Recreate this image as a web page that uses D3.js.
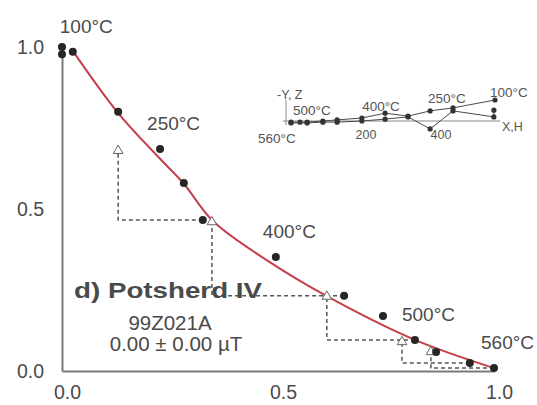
<!DOCTYPE html>
<html>
<head>
<meta charset="utf-8">
<script src="https://cdn.jsdelivr.net/npm/d3@7"></script>
<style>
  html, body { margin: 0; padding: 0; background: #fff; }
  svg { display: block; font-family: "Liberation Sans", Arial, Helvetica, sans-serif; }
</style>
</head>
<body>
<svg id="chart" width="537" height="405"></svg>
<script>
// Arai plot: NRM remaining (y) against pTRM gained (x), normalised
const pTRM = [0.000, 0.000, 0.025, 0.130, 0.227, 0.282, 0.326, 0.495, 0.653, 0.743, 0.817, 0.866, 0.944, 1.000];
const nrm  = [1.000, 0.978, 0.985, 0.800, 0.685, 0.580, 0.466, 0.352, 0.232, 0.170, 0.096, 0.059, 0.025, 0.009];

// temperature steps that carry a label (index into the arrays above)
const labelledSteps = [2, 4, 7, 10, 13];
const stepLabels = ["100°C", "250°C", "400°C", "500°C", "560°C"];

// pTRM checks: triangle position and the step they are repeated from
const checkX = [0.130, 0.347, 0.613, 0.787, 0.854];
const checkY = [0.680, 0.460, 0.230, 0.090, 0.059];
const checkFrom = [6, 8, 10, 12, 13];

// best-fit curve through the selected steps
const fitX = [0.025, 0.130, 0.227, 0.282, 0.350, 0.481, 0.613, 0.817, 1.000];
const fitY = [0.988, 0.796, 0.655, 0.578, 0.462, 0.336, 0.231, 0.096, 0.009];

const tickValues = [0, 0.5, 1];

// Zijderveld inset (mA/m): two projections
const zH_x = [544, 432, 371, 312, 251, 189, 123, 85, 43, 24, 0];
const zH_y = [56, 35, 27, 13, 21, 8, 3, 0, -3, -3, -3];
const zV_x = [541, 541, 432, 371, 312, 251, 189, 123, 85, 43, 0];
const zV_y = [29, 11, 27, -21, 11, 5, 0, -3, -3, -5, -5];
const insetTicks = [200, 400];
const insetStepLabels = ["100°C", "250°C", "400°C", "500°C", "560°C"];

const svg = d3.select("#chart");
const textCol = "#4a4a4a";

const x = d3.scaleLinear().domain([0, 1]).range([62, 494]);
const y = d3.scaleLinear().domain([0, 1]).range([371, 47]);

// axes
const yAxis = svg.append("g").attr("transform", `translate(${x(0)},0)`)
  .call(d3.axisLeft(y).tickValues(tickValues).tickFormat(d3.format(".1f")).tickSize(0).tickSizeOuter(0).tickPadding(18));
const xAxis = svg.append("g").attr("transform", `translate(0,${y(0)})`)
  .call(d3.axisBottom(x).tickValues(tickValues).tickFormat(d3.format(".1f")).tickSize(0).tickSizeOuter(0).tickPadding(14));
[yAxis, xAxis].forEach(g => {
  g.select(".domain").attr("stroke", "#7a7a7a").attr("stroke-width", 2);
  g.selectAll("text").attr("fill", textCol).attr("font-size", 19.5).attr("font-family", "Liberation Sans, Arial, sans-serif");
});
xAxis.selectAll("text").attr("dx", 5);

// pTRM check paths (horizontal from the repeated step, then vertical to the check)
const checks = checkX.map((cx, k) => ({ cx, cy: checkY[k], px: pTRM[checkFrom[k]], py: nrm[checkFrom[k]] }));
svg.append("g").selectAll("path").data(checks).join("path")
  .attr("d", c => `M${x(c.px)},${y(c.py)}H${x(c.cx)}V${y(c.cy)}`)
  .attr("fill", "none").attr("stroke", "#555").attr("stroke-width", 1.5).attr("stroke-dasharray", "4,3");

// fit curve
const fit = fitX.map((v, i) => [v, fitY[i]]);
svg.append("path").datum(fit)
  .attr("d", d3.line().x(d => x(d[0])).y(d => y(d[1])).curve(d3.curveCatmullRom.alpha(0.5)))
  .attr("fill", "none").attr("stroke", "#c4404c").attr("stroke-width", 2);

// check triangles
const tri = d3.symbol().type(d3.symbolTriangle).size(40);
svg.append("g").selectAll("path").data(checks).join("path")
  .attr("transform", c => `translate(${x(c.cx)},${y(c.cy)})`)
  .attr("d", tri).attr("fill", "#fff").attr("stroke", "#666").attr("stroke-width", 1);

// measurement points
svg.append("g").selectAll("circle").data(pTRM.map((v, i) => [v, nrm[i]])).join("circle")
  .attr("cx", d => x(d[0])).attr("cy", d => y(d[1])).attr("r", 4).attr("fill", "#262626");

// temperature labels
svg.append("g").selectAll("text").data(labelledSteps).join("text")
  .attr("x", i => x(pTRM[i]) - 13).attr("y", i => y(nrm[i]) - 19)
  .attr("fill", textCol).attr("font-size", 19)
  .text((i, k) => stepLabels[k]);

// specimen block
const info = svg.append("g").attr("fill", textCol).attr("text-anchor", "middle");
info.append("text").attr("x", 168).attr("y", 298).attr("font-size", 22).attr("font-weight", "bold")
  .attr("textLength", 188).attr("lengthAdjust", "spacingAndGlyphs").text("d) Potsherd IV");
info.append("text").attr("x", 170).attr("y", 330).attr("font-size", 20.5).text("99Z021A");
info.append("text").attr("x", 176).attr("y", 351).attr("font-size", 20.5).text("0.00 ± 0.00 µT");

// Zijderveld inset
const ix = d3.scaleLinear().domain([0, 400]).range([291, 441]);
const iy = d3.scaleLinear().domain([0, 400]).range([121, -29]);
const inset = svg.append("g");
inset.append("line").attr("x1", 283).attr("x2", 500).attr("y1", iy(0)).attr("y2", iy(0)).attr("stroke", "#888").attr("stroke-width", 1);
inset.append("line").attr("x1", 286).attr("x2", 286).attr("y1", 100).attr("y2", 125).attr("stroke", "#888").attr("stroke-width", 1);
const iline = d3.line().x(d => ix(d[0])).y(d => iy(d[1]));
[[zH_x, zH_y], [zV_x, zV_y]].forEach(([xs, ys]) => {
  const pts = xs.map((v, i) => [v, ys[i]]);
  inset.append("path").datum(pts).attr("d", iline).attr("fill", "none").attr("stroke", "#4a4a4a").attr("stroke-width", 1);
  inset.append("g").selectAll("circle").data(pts).join("circle")
    .attr("cx", d => ix(d[0])).attr("cy", d => iy(d[1])).attr("r", 2.6).attr("fill", "#333");
});
const it = inset.append("g").attr("fill", "#555").attr("font-size", 13.5);
it.append("text").attr("x", 277).attr("y", 99).attr("font-size", 12.5).text("-Y, Z");
it.append("text").attr("x", 502).attr("y", 131).attr("font-size", 12.5).text("X,H");
insetTicks.forEach(t => it.append("text").attr("x", ix(t)).attr("y", 139).attr("text-anchor", "middle").attr("font-size", 12.5).text(t));
// inset step labels anchored to horizontal-projection steps
const insetAnchor = [0, 1, 4, 9, 10];
const insetOffset = [[-5, -3], [-25, -5], [-23, -2], [-7, -7], [-33, 21]];
insetAnchor.forEach((i, k) => {
  it.append("text").attr("x", ix(zH_x[i]) + insetOffset[k][0]).attr("y", iy(zH_y[i]) + insetOffset[k][1]).text(insetStepLabels[k]);
});
</script>
</body>
</html>
